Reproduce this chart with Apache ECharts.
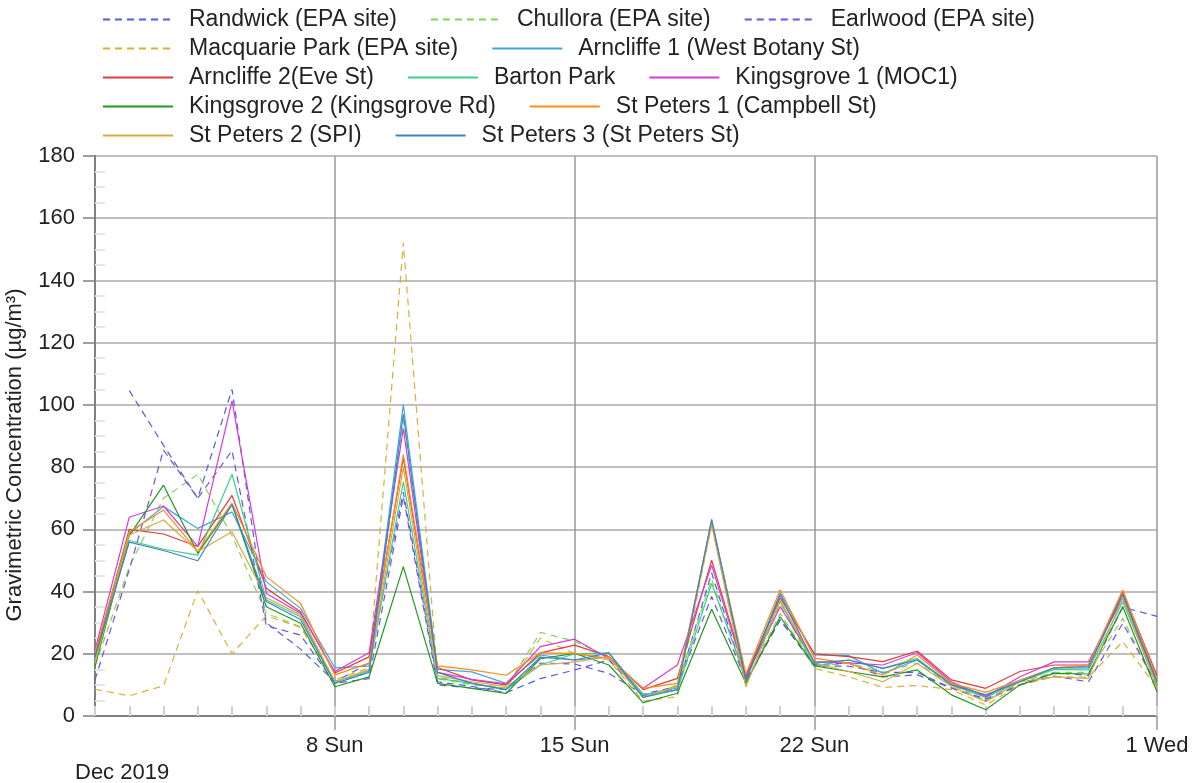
<!DOCTYPE html>
<html><head><meta charset="utf-8">
<script src="https://cdn.jsdelivr.net/npm/echarts@6/dist/echarts.min.js"></script>
<style>html,body{margin:0;padding:0;background:#fff}#c{width:1193px;height:783px}</style>
</head><body><div id="c"></div>
<script>
var days = ['12-01','12-02','12-03','12-04','12-05','12-06','12-07','12-08','12-09','12-10','12-11','12-12','12-13','12-14','12-15','12-16','12-17','12-18','12-19','12-20','12-21','12-22','12-23','12-24','12-25','12-26','12-27','12-28','12-29','12-30','12-31','01-01'];
var majorIdx = [7, 14, 21, 31];
var majorLabels = ['8 Sun', '15 Sun', '22 Sun', '1 Wed'];
var monthLabel = 'Dec 2019';
var yTicks = [0, 20, 40, 60, 80, 100, 120, 140, 160, 180];
var yTitle = 'Gravimetric Concentration (µg/m³)';

var randwick   = [null,104.6,87,70,105,30,21.5,11,17,72,11,9.5,7.5,12,14.8,18,6.5,9,46,11,31,16,16,14,14,9,5,10,14,13,35,32];
var chullora   = [16,48,70,77.7,58,33,28.7,11,14,95,12,10,9,26.9,24,19,6,10,44,11,33,16,17,14,17,10,5,11,14,14,31.4,9];
var earlwood   = [11.6,47,85.5,70,85.3,29,26,10.5,12,70.5,10,9,8.5,17,16.7,13.7,7,9.5,38.4,11.5,30.8,16.5,17,12.6,13.2,9,5.5,10,12.8,11,29.8,10];
var macquarie  = [8.6,6.5,9.7,40.3,20,32.2,28.5,11.6,15.5,152.1,12.5,10.5,9,25,20,18,4.8,6.2,62,9.8,36,15.3,12.6,9.2,9.8,8.5,3.5,10,12.6,12.5,23.9,9];
var arncliffe1 = [19.1,58.6,67.3,60.3,65.6,43.2,34.6,15.5,16,100,15,14.2,10.5,19.6,18,19,6.7,9,63,12,39.5,19.6,19.4,13.7,18,10.5,6.5,11.5,15.5,16,39.4,12];
var arncliffe2 = [19.5,60,58.5,54.5,70.9,41.1,33.5,13.8,19,83,15.6,11.6,10,20.3,22.8,19.1,8.5,12.1,50.1,13,38,20,19.1,17.5,20.9,11.6,8.9,14.3,16.4,16.4,40,13];
var barton     = [18,56.4,53.6,51.7,77.7,37.3,31.9,11,14.5,75.3,12.1,10.5,8.5,16.4,20,20.3,7,8.3,42.6,12,36.8,15.9,18,15.3,18.5,10,6,11,15,14.8,36.7,10];
var kingsgrove1= [21.2,63.9,67.5,54.5,101.3,39.4,33,14.3,20.3,92.4,14,11.8,10.3,22.3,24.7,18.5,8.9,16.4,48.5,12.5,35.1,17.5,17.1,16.4,20.4,11,6.2,12.6,17.4,17.4,37.8,11];
var kingsgrove2= [15.9,58,74.2,52.3,68,35.1,29.8,9.4,12.6,48,10.5,8.9,7.3,18.4,20.1,16.4,4.3,7.3,34.3,10.5,31.9,16.1,14.3,12.6,14.8,6.8,2,10,13.7,13.5,35.1,7.8];
var stpeters1  = [20.2,59.2,66.2,52.9,68.4,44.8,36.2,13.2,17,84,16.1,14.8,13.1,20.3,20.1,18.5,8.9,10.5,62.5,13.5,40.6,18.6,16.9,13.1,19.6,10.5,7.6,11.5,15.5,16.4,40.5,12];
var stpeters2  = [17,58.2,63,52.9,59.2,38,32.5,11,15,80,13,11,9.5,16.4,17.4,19,6,9.5,61.4,9.4,37.3,17,14.3,11,16.9,9.5,4.6,11,12.6,12.1,38,9];
var stpeters3  = [19,55.9,53.2,49.9,68,36.8,31,10.5,14,97,14,10.5,8.5,18.9,18,20.3,6,8.5,63.2,11.5,39,17,18,15.3,18,10,6.8,11,15.5,15.5,39,11];

var seriesNames = ['Randwick (EPA site)','Chullora (EPA site)','Earlwood (EPA site)','Macquarie Park (EPA site)','Arncliffe 1 (West Botany St)','Arncliffe 2(Eve St)','Barton Park','Kingsgrove 1 (MOC1)','Kingsgrove 2 (Kingsgrove Rd)','St Peters 1 (Campbell St)','St Peters 2 (SPI)','St Peters 3 (St Peters St)'];
var seriesData = [randwick, chullora, earlwood, macquarie, arncliffe1, arncliffe2, barton, kingsgrove1, kingsgrove2, stpeters1, stpeters2, stpeters3];
var seriesColors = ['#4d5de6','#7fd655','#7450e2','#d9b032','#3fa6e6','#e23b3b','#3ccf8c','#d63ad6','#1f9a1f','#ff8b12','#d6a943','#3a84c4'];
var seriesDashed = [true,true,true,true,false,false,false,false,false,false,false,false];

var FONT = "'Liberation Sans', Arial, sans-serif";
var chart = echarts.init(document.getElementById('c'), null, {renderer: 'canvas'});

var series = seriesNames.map(function (n, i) {
  return {
    name: n, type: 'line', data: seriesData[i], xAxisIndex: 0, yAxisIndex: 0,
    symbol: 'none', showSymbol: false, connectNulls: false,
    lineStyle: {color: seriesColors[i], width: 1.2, type: seriesDashed[i] ? [7, 5] : 'solid'},
    itemStyle: {color: seriesColors[i]},
    emphasis: {disabled: true}
  };
});
function isMajor(idx) { return majorIdx.indexOf(idx) >= 0; }

chart.setOption({
  animation: false,
  backgroundColor: '#fff',
  textStyle: {fontFamily: FONT},
  grid: {left: 95, right: 36, top: 156, bottom: 67, containLabel: false},
  legend: {
    left: 97, top: 3, width: 1010, orient: 'horizontal',
    itemWidth: 70, itemHeight: 14, itemGap: 6,
    itemStyle: {opacity: 0},
    textStyle: {fontSize: 23, fontFamily: FONT, color: '#222', lineHeight: 21, padding: [0, 27, 0, 11]},
    data: seriesNames
  },
  graphic: [
    {type: 'text', left: 75, top: 762, style: {text: monthLabel, font: '22px ' + FONT, fill: '#222'}},
    {type: 'text', x: 15, y: 455, rotation: Math.PI / 2,
     style: {text: yTitle, font: '22px ' + FONT, fill: '#222', align: 'center', verticalAlign: 'middle'}}
  ],
  xAxis: [{
    type: 'category', data: days, boundaryGap: false, position: 'bottom',
    axisLine: {show: true, lineStyle: {color: '#808080', width: 2}},
    axisTick: {show: true, inside: true, length: 10, interval: 0, lineStyle: {color: '#d0d0d0', width: 2}},
    axisLabel: {show: false},
    splitLine: {show: false}
  }, {
    type: 'category', data: days, boundaryGap: false, position: 'bottom',
    axisLine: {show: false},
    axisTick: {show: true, inside: false, length: 14, interval: function (i) { return isMajor(i); }, lineStyle: {color: '#999', width: 1.5}},
    axisLabel: {show: true, interval: function (i) { return isMajor(i); }, margin: 19, fontSize: 22, color: '#222', fontFamily: FONT,
      formatter: function (v, i) { var k = majorIdx.indexOf(i); return k >= 0 ? majorLabels[k] : ''; }},
    splitLine: {show: true, interval: function (i) { return isMajor(i); }, lineStyle: {color: '#999', width: 1.5}}
  }],
  yAxis: [{
    type: 'value', min: yTicks[0], max: yTicks[yTicks.length - 1], interval: 20,
    axisLine: {show: true, lineStyle: {color: '#808080', width: 2}},
    axisTick: {show: true, inside: false, length: 12, lineStyle: {color: '#808080', width: 1.5}},
    axisLabel: {show: true, margin: 20, fontSize: 22, color: '#222', fontFamily: FONT},
    splitLine: {show: true, lineStyle: {color: '#aaa', width: 1.5}}
  }, {
    type: 'value', min: yTicks[0], max: yTicks[yTicks.length - 1], interval: 20, position: 'left',
    axisLine: {show: false}, axisLabel: {show: false}, splitLine: {show: false},
    axisTick: {show: false, inside: true},
    minorTick: {show: true, splitNumber: 4, length: 10, lineStyle: {color: '#e6e6e6', width: 2}}
  }],
  series: series
});
</script></body></html>
